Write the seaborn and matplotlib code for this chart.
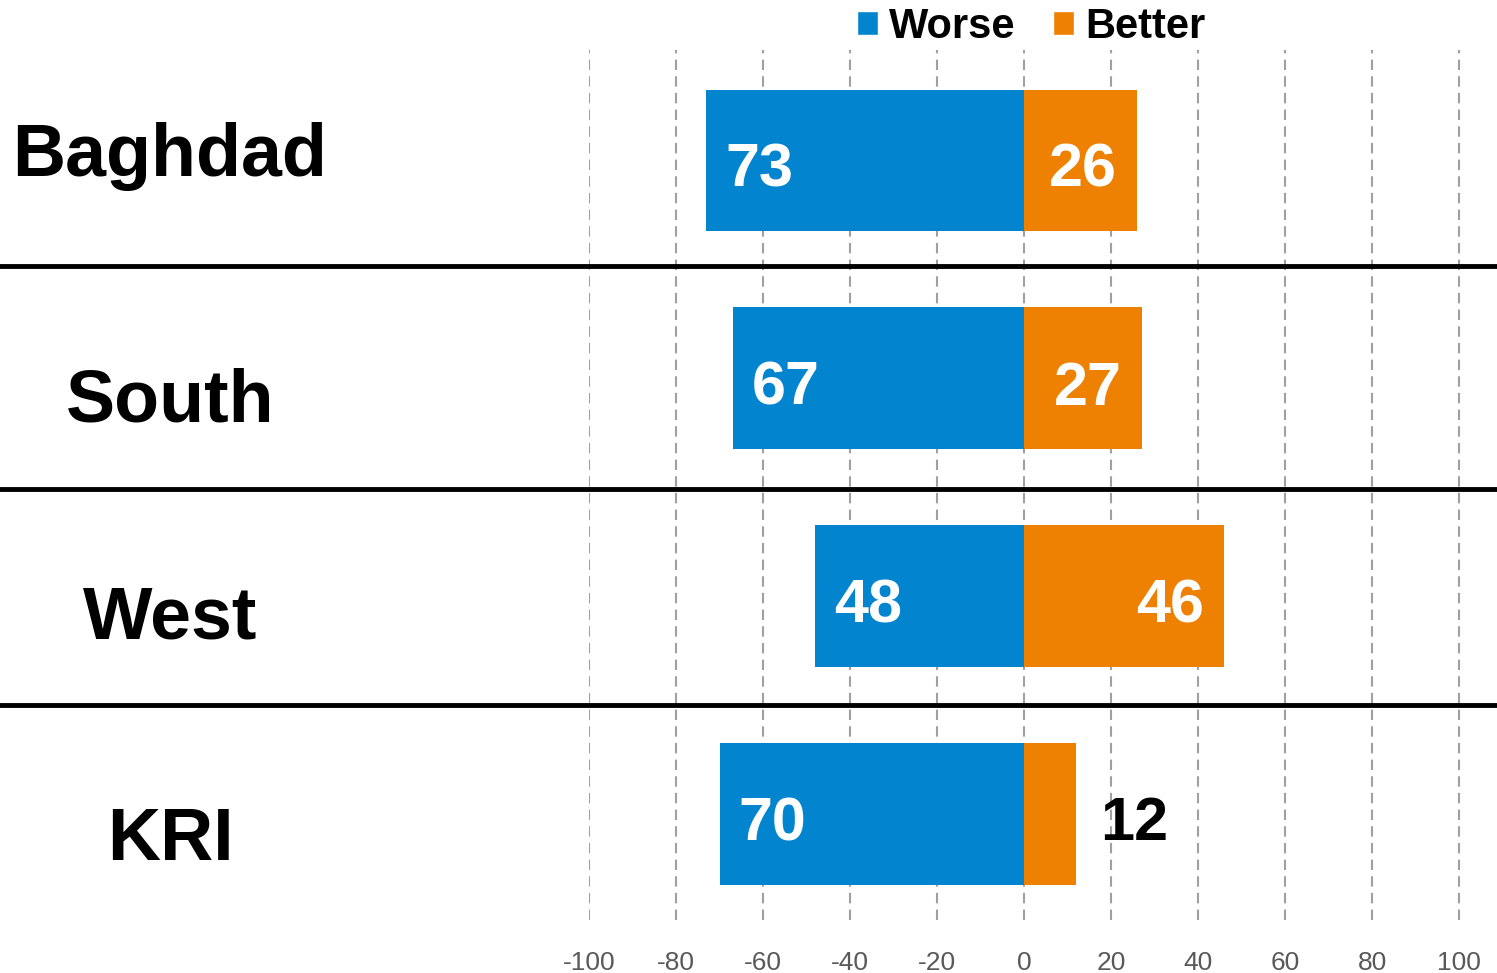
import matplotlib.pyplot as plt
import pandas as pd
import seaborn as sns
from matplotlib.patches import Patch

regions = ['Baghdad', 'South', 'West', 'KRI']
worse = [73, 67, 48, 70]
better = [26, 27, 46, 12]
ticks = [-100, -80, -60, -40, -20, 0, 20, 40, 60, 80, 100]

blue = '#0384CE'
orange = '#EE8002'

sns.set_style('white')
plt.rcParams['font.family'] = ['Liberation Sans', 'DejaVu Sans']

df = pd.DataFrame({'Region': regions, 'Worse': worse, 'Better': better})
df['Worse_neg'] = -df['Worse']

fig = plt.figure(figsize=(14.97, 9.73), dpi=100)
ax = fig.add_axes([589 / 1497, 1 - 920 / 973, 1 - 589 / 1497, (920 - 50) / 973])

sns.barplot(data=df, x='Worse_neg', y='Region', color=blue, width=0.65, saturation=1,
            orient='h', ax=ax, zorder=2, linewidth=0)
sns.barplot(data=df, x='Better', y='Region', color=orange, width=0.65, saturation=1,
            orient='h', ax=ax, zorder=2, linewidth=0)

ax.set_xlim(-100, 108.7)
ax.set_ylim(3.487, -0.507)
ax.set_xticks(ticks)
ax.set_xticklabels([str(t) for t in ticks], fontsize=19, color='#595959')
ax.tick_params(axis='x', length=0, pad=22)
ax.set_yticks([])
ax.set_xlabel('')
ax.set_ylabel('')
for s in ax.spines.values():
    s.set_visible(False)
ax.grid(axis='x', color='#a0a0a0', linestyle=(0, (5, 3)), linewidth=1.5, zorder=0)
ax.set_axisbelow(True)

# region labels and separators
label_dy = [-0.02, 0.11, 0.105, 0.12]
for i, r in enumerate(regions):
    ax.annotate(r, xy=(170 / 1497, i), xycoords=('figure fraction', 'data'),
                xytext=(170 / 1497, i + label_dy[i]), textcoords=('figure fraction', 'data'),
                ha='center', va='center', fontsize=53, fontweight='bold', color='black')
for y in [0.484, 1.508, 2.5]:
    ax.axhline(y, xmin=-589 / 908, xmax=1, color='black', linewidth=3.5, clip_on=False, zorder=3)

# value labels
for i in range(len(regions)):
    ax.text(-worse[i] + 4.4, i + 0.05, str(worse[i]), ha='left', va='center',
            fontsize=44, fontweight='bold', color='white', zorder=4)
    if better[i] >= 20:
        ax.text(better[i] - 4.6, i + 0.05, str(better[i]), ha='right', va='center',
                fontsize=44, fontweight='bold', color='white', zorder=4)
    else:
        ax.text(better[i] + 5.5, i + 0.05, str(better[i]), ha='left', va='center',
                fontsize=44, fontweight='bold', color='black', zorder=4)

handles = [Patch(facecolor=blue, label='Worse'), Patch(facecolor=orange, label='Better')]
fig.legend(handles=handles, loc='center', bbox_to_anchor=(1031 / 1497, 1 - 27 / 973),
           ncol=2, frameon=False, prop={'weight': 'bold', 'size': 30}, labelcolor='black',
           handlelength=0.5, handleheight=0.5, handletextpad=0.27, columnspacing=0.9,
           borderaxespad=0)

fig.savefig('out.png', dpi=100)
